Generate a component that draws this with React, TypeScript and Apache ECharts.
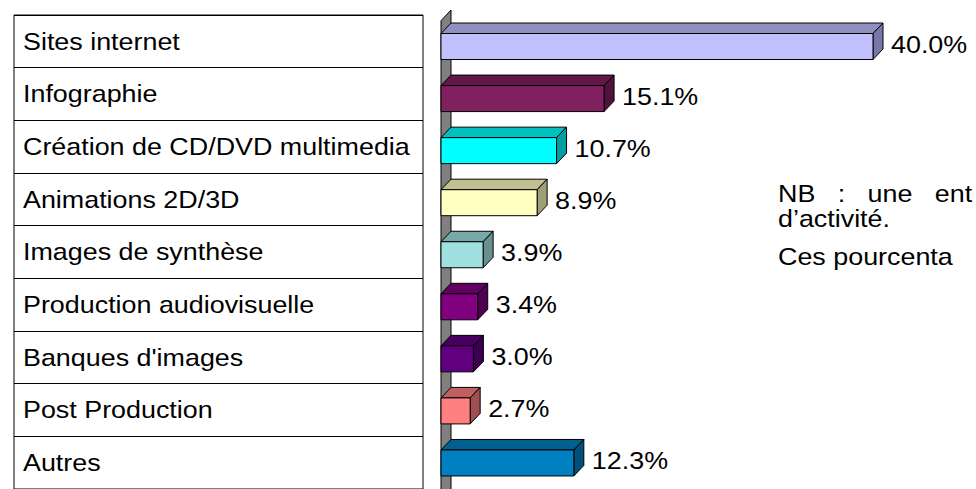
import React, { useEffect, useRef } from "react";
import * as echarts from "echarts";

const categories = [
  "Sites internet",
  "Infographie",
  "Création de CD/DVD multimedia",
  "Animations 2D/3D",
  "Images de synthèse",
  "Production audiovisuelle",
  "Banques d'images",
  "Post Production",
  "Autres",
];
const values = [40.0, 15.1, 10.7, 8.9, 3.9, 3.4, 3.0, 2.7, 12.3];
const frontColors = ["#C0C0FF", "#80205F", "#00FFFF", "#FFFFC0", "#A0E0E0", "#800080", "#600080", "#FF8080", "#0080C0"];
const topColors = ["#9090C0", "#601848", "#00C0C0", "#C0C090", "#78A8A8", "#600060", "#480060", "#C06060", "#006090"];
const sideColors = ["#7878A8", "#50143C", "#00A0A0", "#A0A078", "#689090", "#500050", "#3C0050", "#A05050", "#005078"];
const noteLines = ["NB   :   une   ent", "d\u2019activité.", "Ces pourcenta"];

const FONT = "'Liberation Sans', Arial, sans-serif";
const SX = 1.12;

export default function App() {
  const ref = useRef<HTMLDivElement>(null);
  useEffect(() => {
    if (!ref.current) return;
    const chart = echarts.init(ref.current, null, { renderer: "svg" });
    const dx = 10;
    const dy = 10.5;
    const h = 26;
    chart.setOption({
      animation: false,
      backgroundColor: "#fff",
      grid: [
        { left: 441, top: 20.5, width: 432, height: 477 },
        { left: 14, top: 15, width: 409, height: 477, show: true, borderColor: "#000", borderWidth: 1, backgroundColor: "transparent" },
      ],
      xAxis: [
        { gridIndex: 0, type: "value", min: 0, max: 40, show: false },
        { gridIndex: 1, type: "value", min: 0, max: 1, show: false },
      ],
      yAxis: [
        { gridIndex: 0, type: "category", data: categories, inverse: true, show: false },
        {
          gridIndex: 1,
          type: "category",
          data: categories,
          inverse: true,
          axisLine: { show: false },
          axisTick: { show: false },
          axisLabel: { show: false },
          splitLine: { show: true, lineStyle: { color: "#000", width: 1 } },
        },
      ],
      graphic: [
        {
          type: "polygon",
          z: 0,
          shape: { points: [[441, 20.7], [451, 10], [451, 500], [441, 500]] },
          style: { fill: "#808080", stroke: "#000", lineWidth: 1 },
        },
        ...noteLines.map((t, i) => ({
          type: "text",
          x: 778,
          y: [194, 219, 257][i],
          scaleX: SX,
          style: { text: t, fontSize: 24, fontFamily: FONT, fill: "#000", verticalAlign: "middle", align: "left" },
        })),
      ],
      series: [
        {
          type: "custom",
          xAxisIndex: 0,
          yAxisIndex: 0,
          z: 5,
          clip: false,
          data: values.map((v, i) => [v, i]),
          encode: { x: 0, y: 1 },
          renderItem: (params: any, api: any) => {
            const v = api.value(0);
            const i = api.value(1);
            const p0 = api.coord([0, i]);
            const p1 = api.coord([v, i]);
            const x0 = p0[0];
            const x1 = p1[0];
            const y0 = p0[1] - h / 2;
            const y1 = y0 + h;
            return {
              type: "group",
              children: [
                {
                  type: "polygon",
                  shape: { points: [[x0, y0], [x0 + dx, y0 - dy], [x1 + dx, y0 - dy], [x1, y0]] },
                  style: { fill: topColors[i], stroke: "#000", lineWidth: 1 },
                },
                {
                  type: "polygon",
                  shape: { points: [[x1, y0], [x1 + dx, y0 - dy], [x1 + dx, y1 - dy], [x1, y1]] },
                  style: { fill: sideColors[i], stroke: "#000", lineWidth: 1 },
                },
                {
                  type: "rect",
                  shape: { x: x0, y: y0, width: x1 - x0, height: h },
                  style: { fill: frontColors[i], stroke: "#000", lineWidth: 1 },
                },
                {
                  type: "text",
                  x: x1 + dx + 8,
                  y: p0[1] - 2,
                  scaleX: SX,
                  style: {
                    text: v.toFixed(1) + "%",
                    fontSize: 24,
                    fontFamily: FONT,
                    fill: "#000",
                    verticalAlign: "middle",
                    align: "left",
                  },
                },
              ],
            };
          },
        },
        {
          type: "custom",
          xAxisIndex: 1,
          yAxisIndex: 1,
          z: 5,
          data: categories.map((c, i) => [0, i]),
          encode: { x: 0, y: 1 },
          renderItem: (params: any, api: any) => {
            const i = api.value(1);
            const p = api.coord([0, i]);
            return {
              type: "text",
              x: p[0] + 9,
              y: p[1],
              scaleX: SX,
              style: {
                text: categories[i],
                fontSize: 24,
                fontFamily: FONT,
                fill: "#000",
                verticalAlign: "middle",
                align: "left",
              },
            };
          },
        },
      ],
    });
    return () => chart.dispose();
  }, []);
  return <div ref={ref} style={{ width: 976, height: 489, position: "absolute", left: 0, top: 0 }} />;
}
